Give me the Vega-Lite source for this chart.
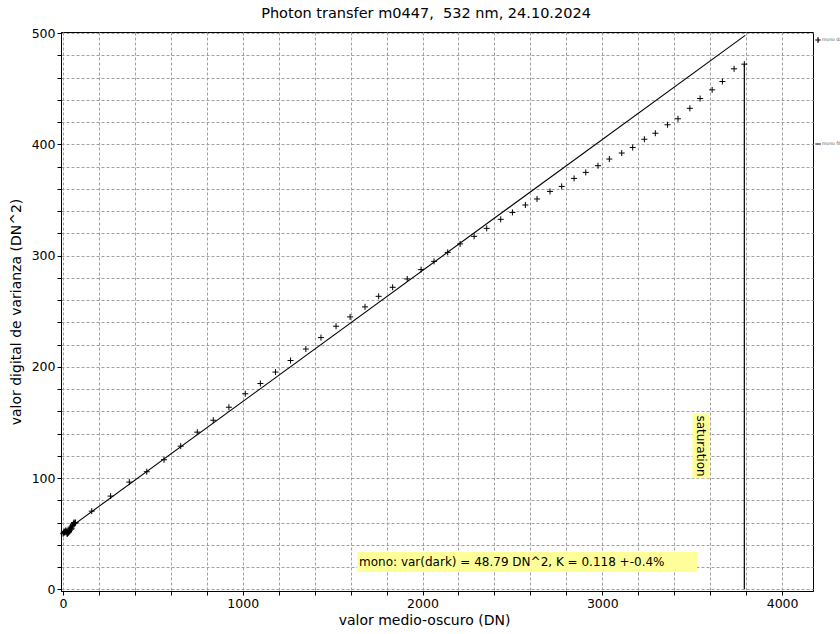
{
  "$schema": "https://vega.github.io/schema/vega-lite/v6.json",
  "width": 752,
  "height": 559,
  "autosize": {"type": "none"},
  "padding": {"left": 61, "top": 32, "right": 27, "bottom": 43},
  "background": "white",
  "config": {
    "font": "DejaVu Sans",
    "view": {"stroke": "black", "strokeWidth": 1},
    "axis": {
      "gridColor": "#a0a0a0",
      "gridDash": [3, 2],
      "gridWidth": 1,
      "gridOpacity": 1,
      "domainColor": "black",
      "tickColor": "black",
      "tickSize": 4,
      "tickCount": 200,
      "labelOverlap": false,
      "labelFont": "DejaVu Sans",
      "labelFontSize": 12.5,
      "labelColor": "black",
      "titleFont": "DejaVu Sans",
      "titleFontSize": 14,
      "titleFontWeight": "normal",
      "titleColor": "black"
    }
  },
  "title": {
    "text": "Photon transfer m0447,\u00a0 532 nm, 24.10.2024",
    "fontSize": 14.5,
    "fontWeight": "normal",
    "font": "DejaVu Sans",
    "color": "black",
    "offset": 6,
    "dx": -11
  },
  "datasets": {
    "points": [
      {"mean": 1, "var": 50}, {"mean": 4, "var": 51}, {"mean": 7, "var": 52}, {"mean": 10, "var": 51},
      {"mean": 13, "var": 52}, {"mean": 16, "var": 53}, {"mean": 19, "var": 52}, {"mean": 22, "var": 50},
      {"mean": 25, "var": 50}, {"mean": 28, "var": 51}, {"mean": 31, "var": 51}, {"mean": 34, "var": 52},
      {"mean": 37, "var": 53}, {"mean": 40, "var": 55}, {"mean": 43, "var": 56}, {"mean": 46, "var": 54},
      {"mean": 49, "var": 55}, {"mean": 52, "var": 57}, {"mean": 55, "var": 58}, {"mean": 58, "var": 59},
      {"mean": 61, "var": 60}, {"mean": 64, "var": 59}, {"mean": 67, "var": 60}, {"mean": 70, "var": 60},
      {"mean": 160, "var": 70.3}, {"mean": 265, "var": 83.8}, {"mean": 369, "var": 96.4},
      {"mean": 466, "var": 105.7}, {"mean": 562, "var": 116.5}, {"mean": 655, "var": 128.7},
      {"mean": 747, "var": 141.3}, {"mean": 836, "var": 152}, {"mean": 923, "var": 163.7},
      {"mean": 1014, "var": 175.8}, {"mean": 1098, "var": 185}, {"mean": 1182, "var": 195.3},
      {"mean": 1266, "var": 205.7}, {"mean": 1351, "var": 216}, {"mean": 1435, "var": 226.3},
      {"mean": 1519, "var": 236.5}, {"mean": 1597, "var": 244.9}, {"mean": 1680, "var": 253.9},
      {"mean": 1756, "var": 263.4}, {"mean": 1834, "var": 271.5}, {"mean": 1915, "var": 279},
      {"mean": 1992, "var": 287.4}, {"mean": 2064, "var": 294.8}, {"mean": 2140, "var": 302.9},
      {"mean": 2209, "var": 310.5}, {"mean": 2287, "var": 317.3}, {"mean": 2357, "var": 324.5},
      {"mean": 2435, "var": 332.6}, {"mean": 2500, "var": 338.8}, {"mean": 2572, "var": 345.5},
      {"mean": 2637, "var": 350.9}, {"mean": 2709, "var": 357.7}, {"mean": 2774, "var": 362.2},
      {"mean": 2843, "var": 369.4}, {"mean": 2908, "var": 374.8}, {"mean": 2976, "var": 380.8},
      {"mean": 3039, "var": 386.8}, {"mean": 3108, "var": 392.2}, {"mean": 3169, "var": 397.2},
      {"mean": 3234, "var": 404.6}, {"mean": 3295, "var": 410}, {"mean": 3363, "var": 417.6},
      {"mean": 3421, "var": 423}, {"mean": 3487, "var": 432.4}, {"mean": 3544, "var": 441.2},
      {"mean": 3611, "var": 449}, {"mean": 3668, "var": 456.5}, {"mean": 3733, "var": 467.9},
      {"mean": 3790, "var": 472.1}
    ],
    "fit": [{"mean": 0, "var": 51}, {"mean": 3795, "var": 498}],
    "saturation": [{"mean": 3790, "lo": 0, "hi": 472}],
    "boxes": [
      {"x1": 1636, "x2": 3527, "y1": 15.6, "y2": 33.5},
      {"x1": 3501, "x2": 3596, "y1": 99.9, "y2": 158.2}
    ],
    "note": [{"x": 1647, "y": 24.6, "label": "mono: var(dark) = 48.79 DN^2, K = 0.118 +-0.4%"}],
    "satlabel": [{"x": 3548, "y": 128.8, "label": "saturation"}],
    "legend": [
      {"series": "mono data", "x": 4200, "tx": 4222, "y": 493.8},
      {"series": "mono fit", "x": 4200, "tx": 4222, "y": 400.3}
    ]
  },
  "layer": [
    {
      "data": {"name": "boxes"},
      "mark": {"type": "rect", "color": "#ffff99", "opacity": 1},
      "encoding": {
        "x": {"field": "x1", "type": "quantitative",
              "scale": {"domain": [-11, 4172], "nice": false, "zero": false},
              "axis": {
                "title": "valor medio-oscuro (DN)",
                "values": [0,200,400,600,800,1000,1200,1400,1600,1800,2000,2200,2400,2600,2800,3000,3200,3400,3600,3800,4000],
                "labelExpr": "datum.value % 1000 === 0 ? datum.value : ''",
                "titleX": 363,
                "titlePadding": 4,
                "labelPadding": 2
              }},
        "x2": {"field": "x2"},
        "y": {"field": "y1", "type": "quantitative",
              "scale": {"domain": [-1.5, 501], "nice": false, "zero": false},
              "axis": {
                "title": "valor digital de varianza (DN^2)",
                "values": [0,20,40,60,80,100,120,140,160,180,200,220,240,260,280,300,320,340,360,380,400,420,440,460,480,500],
                "labelExpr": "datum.value % 100 === 0 ? datum.value : ''",
                "titlePadding": 8,
                "labelPadding": 2
              }},
        "y2": {"field": "y2"}
      }
    },
    {
      "data": {"name": "note"},
      "mark": {"type": "text", "align": "left", "baseline": "middle", "fontSize": 12, "font": "DejaVu Sans", "color": "black"},
      "encoding": {
        "x": {"field": "x", "type": "quantitative"},
        "y": {"field": "y", "type": "quantitative"},
        "text": {"field": "label"}
      }
    },
    {
      "data": {"name": "satlabel"},
      "mark": {"type": "text", "align": "center", "baseline": "middle", "angle": 90, "fontSize": 12, "font": "DejaVu Sans", "color": "black"},
      "encoding": {
        "x": {"field": "x", "type": "quantitative"},
        "y": {"field": "y", "type": "quantitative"},
        "text": {"field": "label"}
      }
    },
    {
      "data": {"name": "fit"},
      "mark": {"type": "line", "color": "black", "strokeWidth": 1.1},
      "encoding": {
        "x": {"field": "mean", "type": "quantitative"},
        "y": {"field": "var", "type": "quantitative"}
      }
    },
    {
      "data": {"name": "saturation"},
      "mark": {"type": "rule", "color": "black", "strokeWidth": 1.2},
      "encoding": {
        "x": {"field": "mean", "type": "quantitative"},
        "y": {"field": "lo", "type": "quantitative"},
        "y2": {"field": "hi"}
      }
    },
    {
      "data": {"name": "points"},
      "mark": {"type": "point", "shape": "M-1,0H1M0,-1V1", "size": 36, "filled": false, "stroke": "black", "strokeWidth": 1, "opacity": 1},
      "encoding": {
        "x": {"field": "mean", "type": "quantitative"},
        "y": {"field": "var", "type": "quantitative"}
      }
    },
    {
      "data": {"name": "legend"},
      "transform": [{"filter": "datum.series === 'mono data'"}],
      "mark": {"type": "point", "shape": "M-1,0H1M0,-1V1", "size": 30, "filled": false, "stroke": "black", "strokeWidth": 1.2, "opacity": 1},
      "encoding": {
        "x": {"field": "x", "type": "quantitative"},
        "y": {"field": "y", "type": "quantitative"}
      }
    },
    {
      "data": {"name": "legend"},
      "transform": [{"filter": "datum.series === 'mono fit'"}],
      "mark": {"type": "point", "shape": "M-1,0H1", "size": 30, "filled": false, "stroke": "black", "strokeWidth": 1, "opacity": 1},
      "encoding": {
        "x": {"field": "x", "type": "quantitative"},
        "y": {"field": "y", "type": "quantitative"}
      }
    },
    {
      "data": {"name": "legend"},
      "mark": {"type": "text", "align": "left", "baseline": "middle", "fontSize": 4.5, "color": "#555555"},
      "encoding": {
        "x": {"field": "tx", "type": "quantitative"},
        "y": {"field": "y", "type": "quantitative"},
        "text": {"field": "series"}
      }
    }
  ]
}
